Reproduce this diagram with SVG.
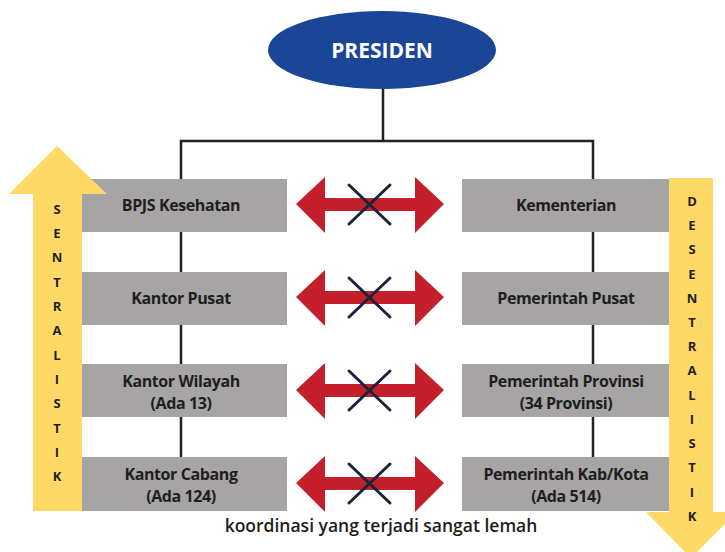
<svg xmlns="http://www.w3.org/2000/svg" width="725" height="552" viewBox="0 0 725 552">
<style>
.box{fill:#a6a4a5}
.bt{font-family:"Open Sans","Liberation Sans",sans-serif;font-weight:bold;font-size:16px;fill:#1e1e1e;text-anchor:middle;letter-spacing:-0.4px}
.yl{font-family:"Open Sans","Liberation Sans",sans-serif;font-weight:bold;font-size:13px;fill:#1e1e1e;text-anchor:middle}
.ln{stroke:#222;stroke-width:2.5;fill:none;stroke-linejoin:miter}
.red{fill:#c3202b}
.x{stroke:#17243a;stroke-width:3;stroke-linecap:round}
</style>
<defs>
<g id="dbl">
<polygon class="red" points="-74,0 -45,-27 -45,-6 45,-6 45,-27 74,0 45,29 45,7 -45,7 -45,29"/>
<line class="x" x1="-21" y1="-19" x2="20" y2="20"/>
<line class="x" x1="20" y1="-19" x2="-21" y2="20"/>
</g>
</defs>
<g id="connectors">
<line class="ln" x1="383" y1="88" x2="383" y2="141"/>
<polyline class="ln" points="181,460 181,141 593,141 593,460"/>
</g>
<g id="presiden">
<ellipse cx="382" cy="50" rx="114" ry="39" fill="#1b4597"/>
<text x="382" y="58" font-family="'Open Sans','Liberation Sans',sans-serif" font-weight="bold" font-size="21" fill="#fff" text-anchor="middle">PRESIDEN</text>
</g>
<g id="bpjs"><rect class="box" x="70" y="179" width="217" height="53"/><text class="bt" x="181" y="211">BPJS Kesehatan</text></g>
<g id="kantor-pusat"><rect class="box" x="70" y="272" width="217" height="53"/><text class="bt" x="181" y="304">Kantor Pusat</text></g>
<g id="kantor-wilayah"><rect class="box" x="70" y="364" width="217" height="53"/><text class="bt" x="181" y="387">Kantor Wilayah</text><text class="bt" x="181" y="409">(Ada 13)</text></g>
<g id="kantor-cabang"><rect class="box" x="70" y="457" width="217" height="54"/><text class="bt" x="181" y="480">Kantor Cabang</text><text class="bt" x="181" y="502">(Ada 124)</text></g>
<g id="kementerian"><rect class="box" x="462" y="179" width="215" height="53"/><text class="bt" x="566" y="211">Kementerian</text></g>
<g id="pemerintah-pusat"><rect class="box" x="462" y="272" width="215" height="53"/><text class="bt" x="566" y="304">Pemerintah Pusat</text></g>
<g id="pemerintah-provinsi"><rect class="box" x="462" y="364" width="215" height="53"/><text class="bt" x="566" y="387">Pemerintah Provinsi</text><text class="bt" x="566" y="409">(34 Provinsi)</text></g>
<g id="pemerintah-kab"><rect class="box" x="462" y="457" width="215" height="54"/><text class="bt" x="566" y="480">Pemerintah Kab/Kota</text><text class="bt" x="566" y="502">(Ada 514)</text></g>
<g id="arrows">
<use href="#dbl" x="370" y="204"/>
<use href="#dbl" x="370" y="297"/>
<use href="#dbl" x="370" y="390"/>
<use href="#dbl" x="370" y="483"/>
</g>
<g id="sentralistik">
<polygon fill="#ffd966" points="57,146 107,194 82,194 82,511 33,511 33,194 9,194"/>
<g class="yl">
<text x="57" y="214">S</text><text x="57" y="238">E</text><text x="57" y="262">N</text><text x="57" y="287">T</text><text x="57" y="311">R</text><text x="57" y="335">A</text><text x="57" y="360">L</text><text x="57" y="384">I</text><text x="57" y="408">S</text><text x="57" y="433">T</text><text x="57" y="457">I</text><text x="57" y="481">K</text>
</g>
</g>
<g id="desentralistik">
<polygon fill="#ffd966" points="669,178 713,178 713,512 737,512 691,558 646,512 669,512"/>
<g class="yl">
<text x="692" y="206">D</text><text x="692" y="230">E</text><text x="692" y="254">S</text><text x="692" y="279">E</text><text x="692" y="303">N</text><text x="692" y="327">T</text><text x="692" y="351">R</text><text x="692" y="375">A</text><text x="692" y="400">L</text><text x="692" y="424">I</text><text x="692" y="448">S</text><text x="692" y="472">T</text><text x="692" y="497">I</text><text x="692" y="521">K</text>
</g>
</g>
<text x="381" y="532" font-family="'Open Sans','Liberation Sans',sans-serif" font-weight="600" font-size="17.5" fill="#1e1e1e" text-anchor="middle">koordinasi yang terjadi sangat lemah</text>
</svg>
